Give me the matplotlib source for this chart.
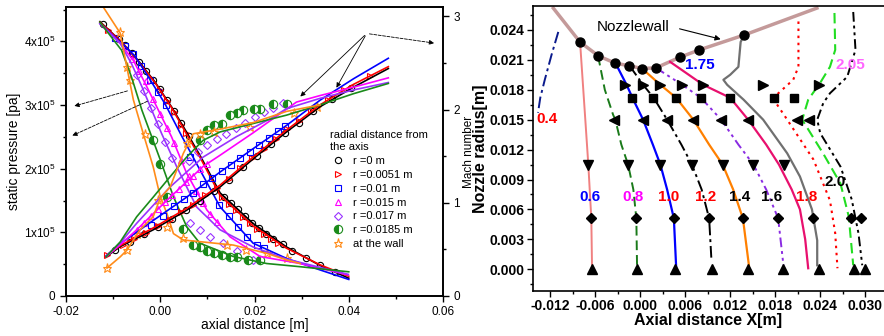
import matplotlib.pyplot as plt
from matplotlib.lines import Line2D
from matplotlib.ticker import MultipleLocator

plt.rcParams['font.family'] = ['Liberation Sans', 'DejaVu Sans']
plt.rcParams['mathtext.fontset'] = 'custom'
plt.rcParams['mathtext.rm'] = 'Liberation Sans'

# ---------------- left panel data (x in m, p in 1e5 Pa, Mach) ----------------
legend_labels = ['r =0 m', 'r =0.0051 m', 'r =0.01 m', 'r =0.015 m',
                 'r =0.017 m', 'r =0.0185 m', 'at the wall']

# pressure curves (lines)
p0_x = [-0.0128, -0.0082, -0.0047, -0.0011, 0.0024, 0.0053, 0.0085, 0.0127, 0.0197, 0.0268, 0.0339, 0.04]
p0_y = [4.31, 3.99, 3.70, 3.36, 2.97, 2.61, 2.20, 1.62, 1.14, 0.77, 0.48, 0.28]
p1_x = [-0.0128, -0.0082, -0.0047, -0.0011, 0.0024, 0.0053, 0.0085, 0.0127, 0.0197, 0.0268, 0.0339, 0.04]
p1_y = [4.30, 3.99, 3.69, 3.35, 2.96, 2.58, 2.17, 1.58, 1.10, 0.75, 0.49, 0.31]
p2_x = [-0.0128, -0.0085, -0.0055, -0.0025, 0.001, 0.0045, 0.0077, 0.0127, 0.0197, 0.0268, 0.0339, 0.04]
p2_y = [4.28, 3.99, 3.78, 3.44, 3.02, 2.52, 2.08, 1.40, 0.83, 0.59, 0.41, 0.26]
p3_x = [-0.0128, -0.0085, -0.0057, -0.0032, -0.0004, 0.0024, 0.0056, 0.0099, 0.0148, 0.0212, 0.0297, 0.0399]
p3_y = [4.28, 3.97, 3.70, 3.34, 2.92, 2.50, 1.93, 1.35, 0.93, 0.62, 0.51, 0.33]
p4_x = [-0.0128, -0.0085, -0.0061, -0.0039, -0.0018, 0.0003, 0.0035, 0.0077, 0.0127, 0.0197, 0.0268, 0.0339, 0.0399]
p4_y = [4.28, 3.97, 3.65, 3.29, 2.92, 2.55, 2.03, 1.40, 1.04, 0.77, 0.58, 0.45, 0.34]
p5_x = [-0.0128, -0.0082, -0.0061, -0.0039, -0.0018, 0.0, 0.0028, 0.0056, 0.0084, 0.0155, 0.0226, 0.0297, 0.04]
p5_y = [4.30, 3.86, 3.44, 2.92, 2.50, 2.14, 1.56, 1.09, 0.83, 0.62, 0.51, 0.46, 0.38]
p6_x = [-0.0121, -0.0085, -0.0071, -0.0057, -0.0036, -0.0015, 0.0, 0.0014, 0.0028, 0.0049, 0.0155, 0.0226, 0.0269, 0.0297]
p6_y = [4.54, 4.13, 3.60, 3.08, 2.55, 2.03, 1.56, 1.30, 0.98, 0.88, 0.80, 0.67, 0.565, 0.51]

# Mach number curves (lines)
m0_x = [-0.0115, -0.0085, -0.0015, 0.0056, 0.0127, 0.0197, 0.0268, 0.0339, 0.041, 0.0484]
m0_y = [0.42, 0.53, 0.71, 0.92, 1.17, 1.47, 1.76, 2.03, 2.24, 2.44]
m1_x = [-0.0115, -0.0085, -0.0015, 0.0056, 0.0127, 0.0197, 0.0268, 0.0339, 0.041, 0.0484]
m1_y = [0.43, 0.54, 0.73, 0.94, 1.19, 1.49, 1.78, 2.05, 2.27, 2.46]
m2_x = [-0.0115, -0.0085, -0.0015, 0.0056, 0.0127, 0.0197, 0.0268, 0.0339, 0.041, 0.0484]
m2_y = [0.43, 0.56, 0.81, 1.06, 1.33, 1.58, 1.83, 2.10, 2.33, 2.55]
m3_x = [-0.0115, -0.0085, -0.005, 0.0021, 0.0091, 0.0127, 0.0197, 0.0289, 0.0339, 0.041, 0.0484]
m3_y = [0.42, 0.55, 0.71, 1.06, 1.39, 1.51, 1.75, 2.08, 2.15, 2.24, 2.34]
m4_x = [-0.0115, -0.0085, -0.005, 0.0021, 0.0091, 0.0162, 0.0233, 0.0268, 0.0339, 0.041, 0.0484]
m4_y = [0.43, 0.57, 0.78, 1.17, 1.49, 1.71, 1.90, 2.01, 2.12, 2.21, 2.29]
m5_x = [-0.0115, -0.0085, -0.005, -0.0015, 0.0021, 0.0056, 0.0091, 0.0127, 0.0197, 0.0268, 0.0339, 0.041, 0.0484]
m5_y = [0.42, 0.58, 0.85, 1.06, 1.28, 1.49, 1.67, 1.76, 1.85, 1.94, 2.05, 2.17, 2.28]
m6_x = [-0.0113, -0.0085, -0.0071, -0.0043, -0.0015, 0.0, 0.0021, 0.0049, 0.007, 0.0127, 0.0197, 0.0268, 0.0339]
m6_y = [0.30, 0.42, 0.49, 0.71, 0.85, 1.05, 1.17, 1.53, 1.74, 1.79, 1.86, 1.98, 2.05]

# measured points: pressure
dp0_x = [-0.0122, -0.0088, -0.0075, -0.006, -0.0045, -0.003, -0.0015, 0.0, 0.0015, 0.003, 0.0045, 0.006,
         0.0135, 0.015, 0.0165, 0.018, 0.0195, 0.021, 0.0225, 0.024, 0.026, 0.028, 0.031, 0.034, 0.037]
dp0_y = [4.27, 4.03, 3.94, 3.82, 3.68, 3.53, 3.40, 3.25, 3.08, 2.90, 2.71, 2.52,
         1.55, 1.46, 1.36, 1.25, 1.15, 1.07, 0.98, 0.90, 0.81, 0.71, 0.59, 0.48, 0.38]
dp1_x = [-0.011, 0.0, 0.0015, 0.003, 0.0045, 0.0055, 0.013, 0.0145, 0.016, 0.0175, 0.019, 0.0205, 0.022, 0.0235, 0.025]
dp1_y = [4.18, 3.23, 3.06, 2.89, 2.69, 2.56, 1.56, 1.45, 1.35, 1.24, 1.14, 1.06, 0.98, 0.90, 0.84]
dp2_x = [-0.0095, -0.0075, -0.0058, -0.004, -0.0022, -0.0005, 0.0012, 0.0063, 0.0125, 0.0145, 0.0165, 0.0185, 0.0205, 0.022]
dp2_y = [4.06, 3.92, 3.80, 3.62, 3.40, 3.20, 3.00, 2.19, 1.43, 1.25, 1.08, 0.92, 0.80, 0.75]
dp3_x = [-0.006, -0.0045, -0.003, -0.0015, 0.0, 0.0015, 0.003, 0.0045, 0.006, 0.0075, 0.009, 0.0105, 0.012]
dp3_y = [3.73, 3.54, 3.37, 3.09, 2.86, 2.64, 2.40, 2.14, 1.88, 1.65, 1.46, 1.29, 1.16]
dp4_x = [-0.005, -0.0035, -0.002, -0.0005, 0.001, 0.0025, 0.0063, 0.0084, 0.0106, 0.0134, 0.0162, 0.0197]
dp4_y = [3.47, 3.22, 2.95, 2.70, 2.42, 2.17, 1.14, 1.04, 0.93, 0.83, 0.70, 0.565]
dp5_x = [-0.0015, 0.0, 0.0015, 0.0048, 0.007, 0.0085, 0.0099, 0.0113, 0.0131, 0.0148, 0.0162, 0.0187, 0.0212]
dp5_y = [2.45, 2.08, 1.55, 1.05, 0.80, 0.77, 0.71, 0.67, 0.64, 0.62, 0.62, 0.565, 0.565]
dp6_x = [-0.0085, -0.0071, -0.0064, -0.0032, -0.0004, 0.0014, 0.0049, 0.0141, 0.0183, 0.0226, 0.0269]
dp6_y = [4.15, 3.60, 3.39, 2.55, 1.51, 1.09, 0.91, 0.80, 0.72, 0.67, 0.59]

# measured points: Mach number
dm0_x = [-0.0095, -0.0065, -0.0035, -0.0005, 0.0025, 0.0055, 0.0085, 0.0115, 0.0145, 0.0175, 0.0205,
         0.0235, 0.0265, 0.0295, 0.0325, 0.0365, 0.0405]
dm0_y = [0.49, 0.58, 0.66, 0.74, 0.83, 0.92, 1.02, 1.13, 1.24, 1.38, 1.50, 1.63, 1.75, 1.86, 1.98, 2.11, 2.23]
dm1_x = [-0.0112, -0.008, -0.0055, -0.003, -0.0005, 0.002, 0.0045, 0.007, 0.0095, 0.012, 0.0145, 0.017,
         0.0195, 0.022, 0.0245, 0.027, 0.0295, 0.032, 0.0355, 0.039, 0.0445]
dm1_y = [0.44, 0.55, 0.61, 0.68, 0.75, 0.82, 0.90, 0.98, 1.08, 1.16, 1.26, 1.37, 1.48, 1.58, 1.68, 1.79,
         1.88, 1.98, 2.10, 2.21, 2.36]
dm2_x = [-0.002, 0.0005, 0.003, 0.005, 0.007, 0.009, 0.011, 0.013, 0.015, 0.017, 0.019, 0.021, 0.023, 0.025, 0.0265]
dm2_y = [0.76, 0.86, 0.97, 1.04, 1.11, 1.20, 1.27, 1.34, 1.41, 1.48, 1.55, 1.62, 1.70, 1.77, 1.82]
dm3_x = [-0.005, -0.0035, -0.002, -0.0005, 0.001, 0.0025, 0.004, 0.0055, 0.007, 0.0085, 0.01]
dm3_y = [0.71, 0.78, 0.86, 0.93, 1.01, 1.08, 1.15, 1.22, 1.29, 1.36, 1.42]
dm4_x = [0.006, 0.008, 0.010, 0.012, 0.014, 0.016, 0.018, 0.020, 0.022, 0.024, 0.026]
dm4_y = [1.45, 1.55, 1.62, 1.68, 1.74, 1.80, 1.86, 1.92, 1.97, 2.02, 2.07]
dm5_x = [0.0085, 0.0099, 0.0113, 0.0131, 0.0148, 0.0162, 0.0176, 0.0198, 0.0212, 0.024, 0.0269]
dm5_y = [1.67, 1.78, 1.83, 1.85, 1.94, 1.96, 1.99, 2.01, 2.01, 2.06, 2.06]
dm6_x = [-0.0113, -0.0071, -0.005, 0.0056, 0.0084, 0.0113, 0.019, 0.0283, 0.0332]
dm6_y = [0.30, 0.49, 0.67, 1.64, 1.74, 1.76, 1.81, 1.96, 2.03]

# ---------------- right panel data (x in m, r in m) ----------------
wall_x = [-0.01156, -0.008, -0.00556, -0.00333, -0.00142, 0.00027, 0.00213, 0.00533, 0.0079, 0.0139, 0.02356]
wall_r = [0.02618, 0.02278, 0.0214, 0.02067, 0.0204, 0.02013, 0.0202, 0.02127, 0.022, 0.0235, 0.02619]
dot_x = [-0.008, -0.00556, -0.00333, -0.00142, 0.00027, 0.00213, 0.00533, 0.0079, 0.0139]
dot_r = [0.02278, 0.0214, 0.02067, 0.0204, 0.02013, 0.0202, 0.02127, 0.022, 0.0235]

ml04_x = [-0.0109, -0.0118, -0.0127, -0.0133, -0.0136]
ml04_r = [0.0238, 0.0215, 0.019, 0.0172, 0.0157]
ml06_x = [-0.008, -0.0073, -0.0069, -0.0065, -0.0064]
ml06_r = [0.0228, 0.015, 0.0105, 0.0051, 0.0]
ml08_x = [-0.0056, -0.0047, -0.0036, -0.0033, -0.0025, -0.0016, -0.0009, -0.0005, -0.0004]
ml08_r = [0.0214, 0.018, 0.0155, 0.015, 0.0125, 0.0105, 0.008, 0.0051, 0.0]
ml10_x = [-0.0033, -0.0018, -0.0009, 0.0004, 0.0017, 0.0027, 0.0036, 0.0045, 0.0048]
ml10_r = [0.0207, 0.0185, 0.017, 0.015, 0.0125, 0.0105, 0.008, 0.0051, 0.0003]
ml12_x = [-0.0014, 0.0004, 0.0018, 0.0036, 0.0055, 0.0069, 0.0082, 0.0092, 0.0095]
ml12_r = [0.0204, 0.0185, 0.0172, 0.015, 0.0125, 0.0105, 0.008, 0.0051, 0.001]
ml14_x = [0.0003, 0.0027, 0.0048, 0.0071, 0.0092, 0.011, 0.0124, 0.0137, 0.0145]
ml14_r = [0.0201, 0.0185, 0.0172, 0.015, 0.0125, 0.0105, 0.008, 0.0051, 0.0004]
ml16_x = [0.0021, 0.0056, 0.0081, 0.0108, 0.0131, 0.0151, 0.0168, 0.0184, 0.0191]
ml16_r = [0.0202, 0.0185, 0.0172, 0.015, 0.0125, 0.0105, 0.008, 0.0051, 0.0004]
ml18_x = [0.004, 0.0084, 0.012, 0.0144, 0.0168, 0.0185, 0.0202, 0.0213, 0.022, 0.0224]
ml18_r = [0.0208, 0.0185, 0.0172, 0.015, 0.0125, 0.0105, 0.008, 0.006, 0.003, 0.0001]
mlg_x = [0.0139, 0.0134, 0.0131, 0.012, 0.0111, 0.0116, 0.0138, 0.0164, 0.0196, 0.0213, 0.0229, 0.0236, 0.0236]
mlg_r = [0.0235, 0.0228, 0.0203, 0.0195, 0.019, 0.0185, 0.017, 0.015, 0.01163, 0.0093, 0.006, 0.0029, 0.0004]
mlr_x = [0.0211, 0.0211, 0.0204, 0.0182, 0.018, 0.0196, 0.0231, 0.0253, 0.026, 0.0263]
mlr_r = [0.02485, 0.0203, 0.019, 0.0175, 0.0168, 0.015, 0.011, 0.0069, 0.0036, 0.0001]
mll_x = [0.0259, 0.026, 0.0253, 0.024, 0.0224, 0.0216, 0.0244, 0.0267, 0.0278, 0.0284]
mll_r = [0.0257, 0.022, 0.0203, 0.0187, 0.017, 0.015, 0.0116, 0.0086, 0.0053, 0.0004]
mlk_x = [0.0284, 0.0287, 0.0276, 0.0253, 0.0244, 0.0236, 0.024, 0.0267, 0.0282, 0.0291, 0.0296]
mlk_r = [0.0258, 0.022, 0.0193, 0.01765, 0.01665, 0.015, 0.01365, 0.0103, 0.007, 0.0036, 0.0004]

# marker rows (radial stations)
up_x = [-0.00636, -0.00036, 0.00467, 0.00956, 0.01444, 0.01898, 0.02378, 0.02853, 0.03]
up_r = 0.0
dia_x = [-0.00653, -0.00053, 0.00453, 0.00924, 0.01369, 0.01844, 0.02298, 0.0281, 0.02947]
dia_r = 0.0051
down_x = [-0.00698, -0.00164, 0.00267, 0.00689, 0.01102, 0.01511, 0.01911]
down_r = 0.0105
left_x = [-0.00342, 0.00036, 0.00364, 0.00711, 0.01076, 0.01444, 0.0209, 0.02244]
left_r = 0.015
sq_x = [-0.00111, 0.00178, 0.00476, 0.00813, 0.012, 0.0179, 0.02057]
sq_r = 0.0172
right_x = [-0.002, 0.00044, 0.00267, 0.00556, 0.00844, 0.01644, 0.02378]
right_r = 0.0185

mach_labels = ['0.4', '0.6', '0.8', '1.0', '1.2', '1.4', '1.6', '1.8', '2.0', '1.75', '2.05']
mach_label_x = [-0.01245, -0.00667, -0.0009, 0.00378, 0.00867, 0.01324, 0.01756, 0.02222, 0.026, 0.008, 0.028]
mach_label_r = [0.01505, 0.00728, 0.00728, 0.00728, 0.00728, 0.00728, 0.00728, 0.00728, 0.00879, 0.0205, 0.0205]
mach_label_c = ['red', 'blue', '#ff00ff', 'red', 'red', 'black', 'black', 'red', 'black', 'blue', '#ff66ff']

# ---------------- figure ----------------
fig = plt.figure(figsize=(8.84, 3.36), dpi=100)

# left panel
ax = fig.add_axes([66 / 884, 1 - 296 / 336, 377 / 884, 289 / 336])
ax2 = ax.twinx()

cols = ['black', 'red', 'blue', '#ff00ff', '#9933ff', '#1a8a1a', '#ff8c1a']
marks = ['o', '>', 's', '^', 'D', 'o', '*']
msz = [4.5, 5, 5, 5, 4.5, 6, 6.5]
p_lines = [(p0_x, p0_y), (p1_x, p1_y), (p2_x, p2_y), (p3_x, p3_y), (p4_x, p4_y), (p5_x, p5_y), (p6_x, p6_y)]
m_lines = [(m0_x, m0_y), (m1_x, m1_y), (m2_x, m2_y), (m3_x, m3_y), (m4_x, m4_y), (m5_x, m5_y), (m6_x, m6_y)]
p_pts = [(dp0_x, dp0_y), (dp1_x, dp1_y), (dp2_x, dp2_y), (dp3_x, dp3_y), (dp4_x, dp4_y), (dp5_x, dp5_y), (dp6_x, dp6_y)]
m_pts = [(dm0_x, dm0_y), (dm1_x, dm1_y), (dm2_x, dm2_y), (dm3_x, dm3_y), (dm4_x, dm4_y), (dm5_x, dm5_y), (dm6_x, dm6_y)]


def marker_style(i):
    if i == 5:
        return dict(marker='o', markersize=msz[i], fillstyle='left', markerfacecolor=cols[i],
                    markerfacecoloralt='white', markeredgecolor=cols[i], markeredgewidth=0.8, linestyle='None')
    return dict(marker=marks[i], markersize=msz[i], markerfacecolor='none',
                markeredgecolor=cols[i], markeredgewidth=0.8, linestyle='None')


for i in range(7):
    ax.plot(*p_pts[i], **marker_style(i))
    ax2.plot(*m_pts[i], **marker_style(i))
for i in range(7):
    ax.plot(*p_lines[i], color=cols[i], lw=1.2)
    ax2.plot(*m_lines[i], color=cols[i], lw=1.2)

ax.set_xlim(-0.02, 0.06)
ax.set_ylim(0, 4.54)
ax2.set_ylim(0, 3.1)
ax.set_xticks([-0.02, 0.0, 0.02, 0.04, 0.06])
ax.set_xticklabels(['-0.02', '0.00', '0.02', '0.04', '0.06'])
ax.xaxis.set_minor_locator(MultipleLocator(0.01))
ax.set_yticks([0, 1, 2, 3, 4])
ax.set_yticklabels(['0', r'1x10$^5$', r'2x10$^5$', r'3x10$^5$', r'4x10$^5$'])
ax.yaxis.set_minor_locator(MultipleLocator(0.5))
ax2.set_yticks([0, 1, 2, 3])
ax2.yaxis.set_minor_locator(MultipleLocator(0.5))
for a in (ax, ax2):
    a.tick_params(which='both', direction='out', labelsize=8.5, width=1.0)
    a.tick_params(which='major', length=4)
    a.tick_params(which='minor', length=2.5)
    for s in a.spines.values():
        s.set_linewidth(1.2)
ax.set_xlabel('axial distance [m]', fontsize=10, labelpad=0)
ax.set_ylabel('static pressure [pa]', fontsize=10, labelpad=2)
ax2.set_ylabel('Mach number', fontsize=8.5, labelpad=2)

handles = [Line2D([], [], **marker_style(i)) for i in range(7)]
ax.legend(handles, legend_labels, title='radial distance from\nthe axis', loc='upper left',
          bbox_to_anchor=(0.68, 0.6), frameon=False, fontsize=8, title_fontsize=8,
          alignment='left', handletextpad=0.6, labelspacing=0.35, borderpad=0.2, handlelength=1.5)

# annotation arrows
ax.annotate('', xy=(0.0587, 3.967), xytext=(0.0438, 4.124),
            arrowprops=dict(arrowstyle='-|>', lw=0.6, ls='--', color='black', mutation_scale=7))
ax.annotate('', xy=(0.0293, 3.104), xytext=(0.0438, 4.124),
            arrowprops=dict(arrowstyle='-|>', lw=0.6, color='black', mutation_scale=7))
ax.annotate('', xy=(0.0371, 3.234), xytext=(0.0438, 4.124),
            arrowprops=dict(arrowstyle='-|>', lw=0.6, color='black', mutation_scale=7))
ax.annotate('', xy=(-0.0188, 2.972), xytext=(-0.0064, 3.234),
            arrowprops=dict(arrowstyle='-|>', lw=0.6, ls='--', color='black', mutation_scale=7))
ax.annotate('', xy=(-0.0192, 2.501), xytext=(-0.0022, 3.077),
            arrowprops=dict(arrowstyle='-|>', lw=0.6, ls='--', color='black', mutation_scale=7))

# right panel
bx = fig.add_axes([533 / 884, 1 - 290.7 / 336, 351 / 884, 284.7 / 336])
bx.plot(wall_x, wall_r, color='#c49a9a', lw=2.5, zorder=2)
bx.plot(ml04_x, ml04_r, color='#0a1a8c', lw=1.4, dashes=(6, 2, 1.5, 2))
bx.plot(ml06_x, ml06_r, color='#f08080', lw=1.4)
bx.plot(ml08_x, ml08_r, color='#1a7a1a', lw=1.4, dashes=(5, 2.5))
bx.plot(ml10_x, ml10_r, color='blue', lw=1.6)
bx.plot(ml12_x, ml12_r, color='black', lw=1.4, dashes=(6, 2, 1.5, 2))
bx.plot(ml14_x, ml14_r, color='#ff8000', lw=1.6)
bx.plot(ml16_x, ml16_r, color='#8a2be2', lw=1.4, dashes=(5, 2, 1.5, 2, 1.5, 2))
bx.plot(ml18_x, ml18_r, color='#e8106e', lw=1.6)
bx.plot(mlg_x, mlg_r, color='#707070', lw=1.6)
bx.plot(mlr_x, mlr_r, color='red', lw=1.5, dashes=(1.2, 2.2))
bx.plot(mll_x, mll_r, color='#22dd22', lw=1.5, dashes=(5, 2.5))
bx.plot(mlk_x, mlk_r, color='black', lw=1.4, dashes=(5, 2, 1.5, 2, 1.5, 2))

bx.plot(dot_x, dot_r, 'o', color='black', ms=6.5, zorder=5)
bx.plot(up_x, [up_r] * len(up_x), '^', color='black', ms=7, zorder=5)
bx.plot(dia_x, [dia_r] * len(dia_x), 'D', color='black', ms=5.5, zorder=5)
bx.plot(down_x, [down_r] * len(down_x), 'v', color='black', ms=7, zorder=5)
bx.plot(left_x, [left_r] * len(left_x), '<', color='black', ms=7, zorder=5)
bx.plot(sq_x, [sq_r] * len(sq_x), 's', color='black', ms=5.5, zorder=5)
bx.plot(right_x, [right_r] * len(right_x), '>', color='black', ms=7, zorder=5)

for t, x, r, c in zip(mach_labels, mach_label_x, mach_label_r, mach_label_c):
    bx.text(x, r, t, color=c, fontsize=11, fontweight='bold', ha='center', va='center')

bx.annotate('', xy=(0.0111, 0.0230), xytext=(0.0049, 0.02418),
            arrowprops=dict(arrowstyle='-|>', lw=0.8, color='black', mutation_scale=8))
bx.text(-0.0009, 0.02434, 'Nozzlewall', fontsize=11, ha='center', va='center')

bx.set_xlim(-0.01427, 0.0325)
bx.set_ylim(-0.00215, 0.0264)
bx.set_xticks([-0.012, -0.006, 0.0, 0.006, 0.012, 0.018, 0.024, 0.030])
bx.set_xticklabels(['-0.012', '-0.006', '0.000', '0.006', '0.012', '0.018', '0.024', '0.030'])
bx.xaxis.set_minor_locator(MultipleLocator(0.003))
bx.set_yticks([0.0, 0.003, 0.006, 0.009, 0.012, 0.015, 0.018, 0.021, 0.024])
bx.set_yticklabels(['0.000', '0.003', '0.006', '0.009', '0.012', '0.015', '0.018', '0.021', '0.024'])
bx.yaxis.set_minor_locator(MultipleLocator(0.0015))
bx.tick_params(which='both', direction='out', labelsize=10, width=1.0, pad=2)
bx.tick_params(which='major', length=4)
bx.tick_params(which='minor', length=2.5)
for lab in bx.get_xticklabels() + bx.get_yticklabels():
    lab.set_fontweight('bold')
bx.spines['right'].set_visible(False)
for s in ('left', 'top', 'bottom'):
    bx.spines[s].set_linewidth(1.2)
bx.set_xlabel('Axial distance X[m]', fontsize=11.5, fontweight='bold', labelpad=0)
bx.set_ylabel('Nozzle radius[m]', fontsize=11.5, fontweight='bold', labelpad=1)

fig.savefig('out.png', dpi=100)
